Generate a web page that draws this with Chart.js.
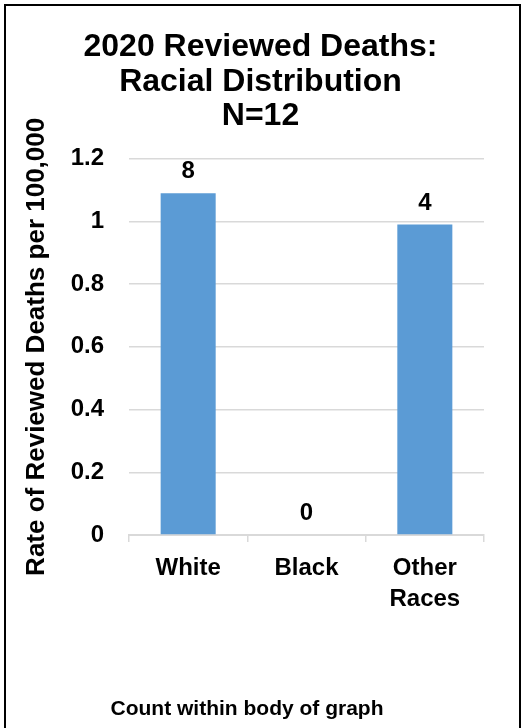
<!DOCTYPE html>
<html>
<head>
<meta charset="utf-8">
<script src="https://cdn.jsdelivr.net/npm/chart.js@4/dist/chart.umd.min.js"></script>
<style>
  html, body { margin: 0; padding: 0; background: #ffffff; }
  #wrap { position: relative; width: 521px; height: 728px; overflow: hidden; }
  #c { position: absolute; left: 0; top: 0; }
  #frame { position: absolute; left: 4px; top: 4px; width: 517px; height: 740px; box-sizing: border-box;
           border-top: 2px solid #000; border-left: 2px solid #000; border-right: 2px solid #000; pointer-events: none; }
</style>
</head>
<body>
<div id="wrap">
  <canvas id="c" width="521" height="728"></canvas>
  <div id="frame"></div>
</div>
<script>
const titleLines = ["2020 Reviewed Deaths:", "Racial Distribution", "N=12"];
const categories = [["White"], ["Black"], ["Other", "Races"]];
const rates = [1.09, 0, 0.99];
const counts = [8, 0, 4];
const yAxisTitle = "Rate of Reviewed Deaths per 100,000";
const yMin = 0, yMax = 1.2, yStep = 0.2;
const footnote = "Count within body of graph";

const FONT = "'Liberation Sans', Arial, sans-serif";

const countLabels = {
  id: 'countLabels',
  afterDatasetsDraw(chart) {
    const ctx = chart.ctx;
    const meta = chart.getDatasetMeta(0);
    ctx.save();
    ctx.font = "bold 24px " + FONT;
    ctx.fillStyle = "#000";
    ctx.textAlign = "center";
    ctx.textBaseline = "alphabetic";
    meta.data.forEach((bar, i) => {
      ctx.fillText(String(counts[i]), bar.x, bar.y - 15);
    });
    ctx.restore();
  }
};

const footer = {
  id: 'footer',
  afterDraw(chart) {
    const ctx = chart.ctx;
    ctx.save();
    ctx.font = "bold 21px " + FONT;
    ctx.fillStyle = "#000";
    ctx.textAlign = "center";
    ctx.textBaseline = "middle";
    ctx.fillText(footnote, 247, 709);
    ctx.restore();
  }
};

new Chart(document.getElementById('c'), {
  type: 'bar',
  data: {
    labels: categories,
    datasets: [{
      data: rates,
      backgroundColor: '#5B9BD5',
      borderWidth: 0,
      barPercentage: 0.465,
      categoryPercentage: 1.0
    }]
  },
  options: {
    responsive: false,
    animation: false,
    devicePixelRatio: 1,
    layout: { padding: { left: 0, right: 0, top: 0, bottom: 115 } },
    plugins: {
      legend: { display: false },
      tooltip: { enabled: false },
      title: {
        display: true,
        text: titleLines,
        color: '#000',
        font: { family: FONT, size: 32, weight: 'bold', lineHeight: 1.08 },
        padding: { top: 30, bottom: 25 }
      }
    },
    scales: {
      x: {
        offset: true,
        grid: { display: true, offset: true, drawOnChartArea: false, drawTicks: true, tickLength: 7, color: '#d9d9d9', lineWidth: 1.5 },
        border: { display: true, color: '#d9d9d9', width: 2 },
        ticks: { color: '#000', font: { family: FONT, size: 24, weight: 'bold', lineHeight: 1.3 }, padding: 11, maxRotation: 0, autoSkip: false },
        afterFit(scale) { scale.height = 78; }
      },
      y: {
        min: yMin, max: yMax,
        grid: { color: '#d9d9d9', lineWidth: 1.5, drawTicks: false },
        border: { display: false },
        ticks: {
          stepSize: yStep, color: '#000', padding: 25,
          font: { family: FONT, size: 24, weight: 'bold' },
          callback: (v) => Number(v.toFixed(1)).toString()
        },
        title: {
          display: true, text: yAxisTitle, color: '#000',
          font: { family: FONT, size: 26, weight: 'bold', lineHeight: 1.2 },
          padding: { top: 21, bottom: 0 }
        },
        afterFit(scale) { scale.width = 129; }
      },
      yRight: {
        position: 'right',
        display: true,
        grid: { display: false, drawTicks: false },
        border: { display: false },
        ticks: { display: false },
        afterFit(scale) { scale.width = 37; }
      }
    }
  },
  plugins: [countLabels, footer]
});
</script>
</body>
</html>
